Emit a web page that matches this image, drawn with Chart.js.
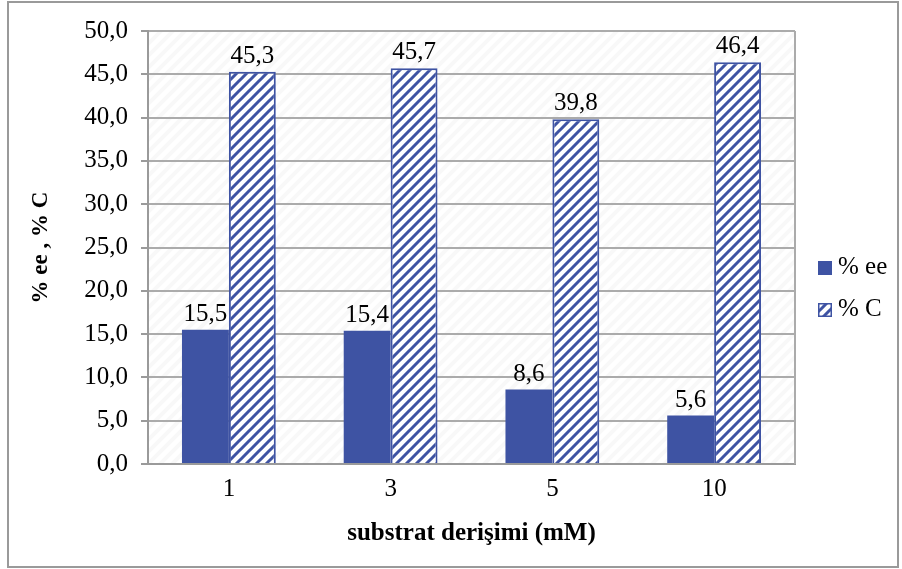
<!DOCTYPE html>
<html>
<head>
<meta charset="utf-8">
<script src="https://cdn.jsdelivr.net/npm/chart.js@4/dist/chart.umd.min.js"></script>
<style>
  html, body { margin: 0; padding: 0; background: #ffffff; }
  #wrap { width: 902px; height: 569px; }
</style>
</head>
<body>
<div id="wrap"><canvas id="chart" width="902" height="569"></canvas></div>
<script>
// substrate concentrations (mM)
const categories = ['1', '3', '5', '10'];
// enantiomeric excess (%)
const eeValues = [15.5, 15.4, 8.6, 5.6];
// conversion (%)
const convValues = [45.3, 45.7, 39.8, 46.4];
// value axis
const yMin = 0;
const yMax = 50;
const yStep = 5;

const BLUE = '#3e53a3';
const GRID = '#ababab';
const SERIF = '"Liberation Serif", "Times New Roman", serif';
const TEXT_SIZE = 25;

const fmt = v => v.toFixed(1).replace('.', ',');

// diagonal hatch tile
function makeHatch(color, bg, size, width) {
  const c = document.createElement('canvas');
  c.width = size; c.height = size;
  const g = c.getContext('2d');
  g.fillStyle = bg;
  g.fillRect(0, 0, size, size);
  g.strokeStyle = color;
  g.lineWidth = width;
  g.lineCap = 'square';
  g.beginPath();
  g.moveTo(-size, 2 * size); g.lineTo(2 * size, -size);
  g.moveTo(-size, size); g.lineTo(size, -size);
  g.moveTo(0, 2 * size); g.lineTo(2 * size, 0);
  g.stroke();
  return g.createPattern(c, 'repeat');
}

const ctx = document.getElementById('chart').getContext('2d');
const barHatch = makeHatch(BLUE, '#ffffff', 10, 3);
const plotHatch = makeHatch('#f8f8f8', '#ffffff', 12, 4);

// faint hatched plot background + outer frame
const frame = {
  id: 'frame',
  beforeDraw(chart) {
    const { ctx: g, chartArea: a } = chart;
    g.save();
    g.fillStyle = '#ffffff';
    g.fillRect(0, 0, chart.width, chart.height);
    g.fillStyle = plotHatch;
    g.fillRect(a.left, a.top, a.right - a.left, a.bottom - a.top);
    g.restore();
  },
  afterDraw(chart) {
    const { ctx: g, chartArea: a } = chart;
    g.save();
    // right edge of the plot area
    g.strokeStyle = GRID;
    g.lineWidth = 2;
    g.beginPath();
    g.moveTo(a.right, a.top);
    g.lineTo(a.right, a.bottom);
    g.stroke();
    // outer chart border
    g.strokeStyle = '#9a9a9a';
    g.lineWidth = 2;
    g.strokeRect(8, 2, 890, 565);
    g.restore();
  }
};

// value labels above each bar
const valueLabels = {
  id: 'valueLabels',
  afterDatasetsDraw(chart) {
    const g = chart.ctx;
    g.save();
    g.font = TEXT_SIZE + 'px ' + SERIF;
    g.fillStyle = '#000000';
    g.textAlign = 'center';
    g.textBaseline = 'alphabetic';
    chart.data.datasets.forEach((ds, i) => {
      chart.getDatasetMeta(i).data.forEach((bar, j) => {
        g.fillText(fmt(ds.data[j]), bar.x, bar.y - 9);
      });
    });
    g.restore();
  }
};

// legend on the right
const sideLegend = {
  id: 'sideLegend',
  afterDraw(chart) {
    const g = chart.ctx;
    const rows = [274, 316];
    g.save();
    g.font = TEXT_SIZE + 'px ' + SERIF;
    g.textAlign = 'left';
    g.textBaseline = 'alphabetic';
    chart.data.datasets.forEach((ds, i) => {
      const base = rows[i];
      g.fillStyle = ds.backgroundColor;
      g.fillRect(818, base - 13, 14, 14);
      if (ds.borderWidth) {
        g.strokeStyle = ds.borderColor;
        g.lineWidth = 1.5;
        g.strokeRect(818.75, base - 12.25, 12.5, 12.5);
      }
      g.fillStyle = '#000000';
      g.fillText(ds.label, 838, base);
    });
    g.restore();
  }
};

new Chart(ctx, {
  type: 'bar',
  data: {
    labels: categories,
    datasets: [
      { label: '% ee', data: eeValues, backgroundColor: BLUE, borderWidth: 0 },
      { label: '% C', data: convValues, backgroundColor: barHatch, borderColor: BLUE, borderWidth: 2 }
    ]
  },
  options: {
    responsive: false,
    animation: false,
    devicePixelRatio: 1,
    layout: { padding: { top: 31, right: 107, left: 0, bottom: 0 } },
    datasets: { bar: { categoryPercentage: 0.58, barPercentage: 1 } },
    plugins: {
      legend: { display: false },
      tooltip: { enabled: false }
    },
    scales: {
      x: {
        grid: { display: false, drawTicks: false },
        border: { display: true, color: '#9a9a9a', width: 2 },
        ticks: { font: { family: SERIF, size: TEXT_SIZE }, color: '#000000', padding: 10 },
        title: {
          display: true,
          text: 'substrat derişimi (mM)',
          font: { family: SERIF, size: 25, weight: 'bold' },
          color: '#000000',
          padding: { top: 0, bottom: 20 }
        },
        afterFit(scale) { scale.height = 105; }
      },
      y: {
        min: yMin,
        max: yMax,
        grid: { color: GRID, lineWidth: 2, tickLength: 7, tickColor: '#9a9a9a', drawTicks: true },
        border: { display: true, color: '#9a9a9a', width: 2 },
        ticks: {
          stepSize: yStep,
          font: { family: SERIF, size: TEXT_SIZE },
          color: '#000000',
          padding: 13,
          callback: v => fmt(v)
        },
        title: {
          display: true,
          text: '% ee , % C',
          font: { family: SERIF, size: 23, weight: 'bold' },
          color: '#000000',
          padding: { top: 27, bottom: 0 }
        },
        afterFit(scale) { scale.width = 148; }
      }
    }
  },
  plugins: [frame, valueLabels, sideLegend]
});
</script>
</body>
</html>
